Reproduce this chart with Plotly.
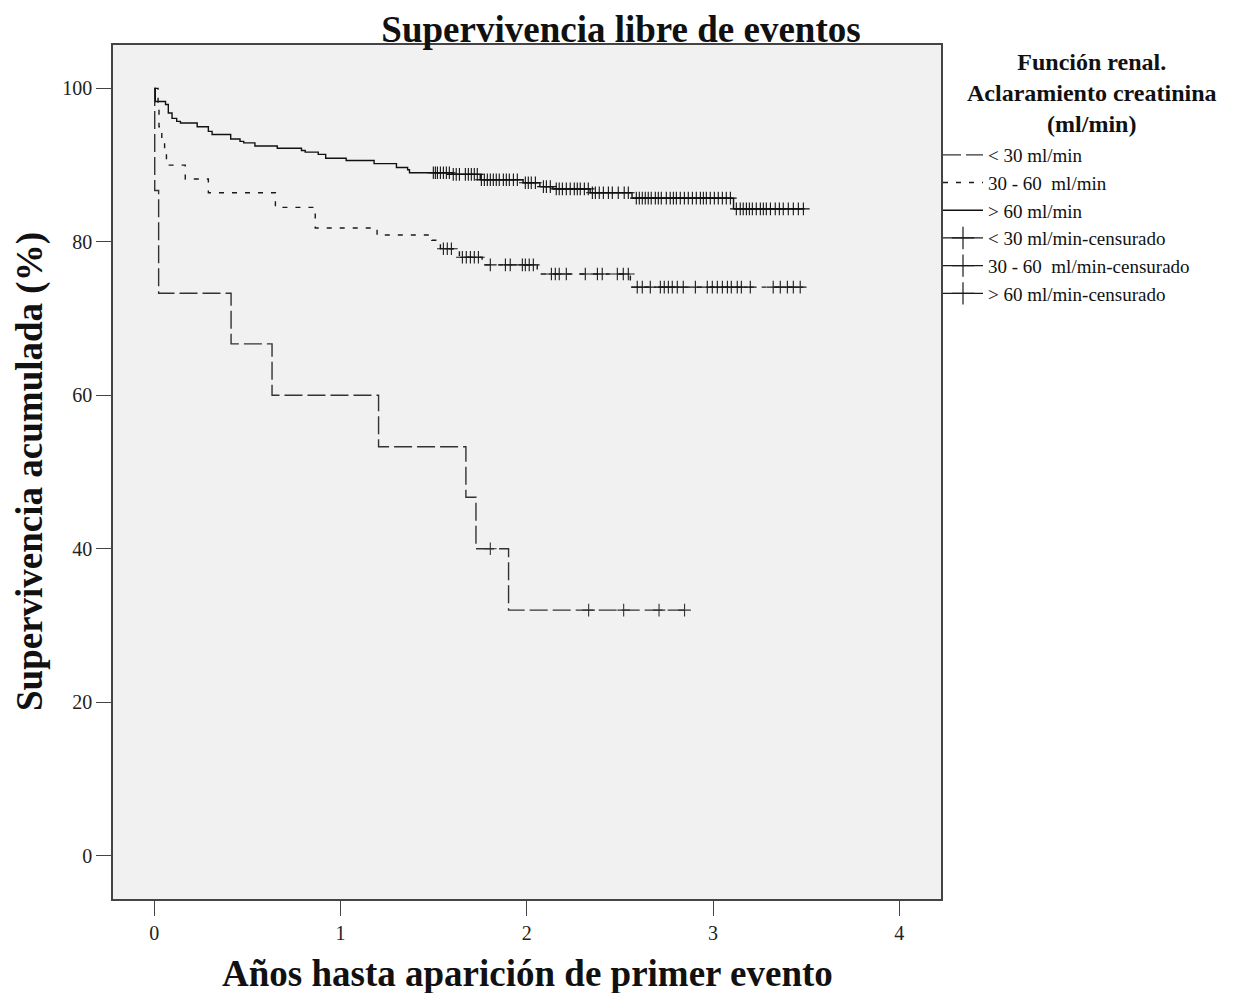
import plotly.graph_objects as go

# ---------------- data ----------------
group_names = ["< 30 ml/min", "30 - 60\u00a0 ml/min", "> 60 ml/min"]
censor_names = ["< 30 ml/min-censurado", "30 - 60\u00a0 ml/min-censurado", "> 60 ml/min-censurado"]

# < 30 ml/min : step times (years) and cumulative survival (%)
lt30_t = [0.0, 0.002, 0.023, 0.412, 0.632, 1.204, 1.673, 1.727, 1.902]
lt30_s = [100.0, 86.7, 73.3, 66.7, 60.0, 53.3, 46.7, 40.0, 32.0]
lt30_end = 2.847
lt30_cens = [1.804, 2.332, 2.520, 2.710, 2.847]

# 30 - 60 ml/min
mid_t = [0.0, 0.02, 0.025, 0.04, 0.055, 0.065, 0.166, 0.29, 0.65, 0.864, 1.196,
         1.49, 1.536, 1.638, 1.76, 2.056, 2.556]
mid_s = [100.0, 98.0, 95.0, 93.5, 92.0, 90.0, 88.2, 86.4, 84.5, 81.8, 80.9,
         80.2, 79.1, 78.0, 77.0, 75.8, 74.1]
mid_end = 3.485
mid_cens = [1.552, 1.573, 1.595, 1.654, 1.675, 1.697, 1.718, 1.740,
            1.804, 1.885, 1.911, 1.976, 1.992, 2.013, 2.035,
            2.132, 2.153, 2.174, 2.212, 2.314, 2.379, 2.405, 2.486, 2.518, 2.545,
            2.593, 2.620, 2.663, 2.717, 2.738, 2.760, 2.781, 2.808, 2.840, 2.905,
            2.969, 2.996, 3.023, 3.050, 3.077, 3.098, 3.130, 3.152, 3.200,
            3.323, 3.361, 3.399, 3.431, 3.468]

# > 60 ml/min
gt60_t = [0.0, 0.005, 0.06, 0.075, 0.095, 0.12, 0.14, 0.23, 0.29, 0.31, 0.41,
          0.46, 0.48, 0.54, 0.66, 0.79, 0.81, 0.88, 0.92, 1.03, 1.18, 1.30,
          1.36, 1.37, 1.60, 1.75, 1.98, 2.07, 2.14, 2.34, 2.565, 3.11]
gt60_s = [100.0, 98.3, 97.9, 96.8, 96.1, 95.7, 95.5, 95.0, 94.4, 94.0, 93.4,
          93.1, 92.9, 92.5, 92.2, 91.9, 91.7, 91.4, 90.9, 90.6, 90.2, 89.7,
          89.4, 89.0, 88.8, 88.1, 87.7, 87.2, 86.9, 86.4, 85.7, 84.3]
gt60_end = 3.485
gt60_cens = [1.498, 1.509, 1.520, 1.536, 1.552, 1.568, 1.584,
             1.605, 1.621, 1.638, 1.670, 1.686, 1.702, 1.718, 1.734,
             1.756, 1.772, 1.788, 1.804, 1.820, 1.836, 1.852, 1.874, 1.890, 1.906, 1.928, 1.949,
             1.992, 2.008, 2.024, 2.046, 2.089, 2.105, 2.126,
             2.158, 2.174, 2.191, 2.212, 2.233, 2.255, 2.271, 2.287, 2.309, 2.330,
             2.352, 2.368, 2.389, 2.411, 2.438, 2.459, 2.491, 2.523, 2.545,
             2.588, 2.604, 2.620, 2.636, 2.652, 2.668, 2.690, 2.706, 2.722, 2.749,
             2.770, 2.787, 2.803, 2.824, 2.846, 2.867, 2.889, 2.910, 2.932, 2.948,
             2.964, 2.985, 3.007, 3.028, 3.050, 3.071, 3.093,
             3.125, 3.146, 3.162, 3.179, 3.195, 3.211, 3.232, 3.254, 3.270, 3.286,
             3.308, 3.334, 3.356, 3.377, 3.404, 3.431, 3.458, 3.485]

x_ticks = [0, 1, 2, 3, 4]
y_ticks = [0, 20, 40, 60, 80, 100]

# ---------------- helpers ----------------
def level_at(times, surv, t):
    val = surv[0]
    for ti, si in zip(times, surv):
        if ti <= t:
            val = si
    return val

SERIF = "Liberation Serif, Times New Roman, serif"
LINE_COL = "#1a1a1a"
groups = [
    (lt30_t, lt30_s, lt30_end, lt30_cens, "18px,5px", "#333333"),
    (mid_t, mid_s, mid_end, mid_cens, "5px,8px", "#1a1a1a"),
    (gt60_t, gt60_s, gt60_end, gt60_cens, "solid", "#111111"),
]

fig = go.Figure()

for (t, s, end, cens, dash, col), name in zip(groups, group_names):
    fig.add_trace(go.Scatter(
        x=t + [end], y=s + [s[-1]], mode="lines", name=name,
        line=dict(color=col, width=1.4, dash=dash, shape="hv"),
        hoverinfo="skip"))

for (t, s, end, cens, dash, col) in groups:
    fig.add_trace(go.Scatter(
        x=cens, y=[level_at(t, s, c) for c in cens], mode="markers",
        showlegend=False,
        marker=dict(symbol="cross-thin", size=9, color=col,
                    line=dict(width=1.1, color=col)),
        hoverinfo="skip"))

for name in censor_names:
    fig.add_trace(go.Scatter(
        x=[None], y=[None], mode="lines+markers", name=name,
        line=dict(color=LINE_COL, width=1.2),
        marker=dict(symbol="cross-thin", size=16, color=LINE_COL,
                    line=dict(width=1.2, color=LINE_COL))))

axis_common = dict(
    showgrid=False, zeroline=False, showline=True, mirror=True,
    linecolor="#444444", linewidth=1.6,
    ticks="outside", ticklen=15, tickwidth=1.4, tickcolor="#444444",
    tickfont=dict(family=SERIF, size=20, color="#222222"),
)

fig.update_layout(
    width=1242, height=993,
    margin=dict(l=113, r=301, t=45, b=94, autoexpand=False),
    paper_bgcolor="white", plot_bgcolor="#f1f1f1",
    title=dict(text="Supervivencia libre de eventos", x=0.5, xref="container",
               y=1 - 29 / 993, yref="container", yanchor="middle", xanchor="center",
               font=dict(family=SERIF, size=37, color="#111111", weight="bold")),
    xaxis=dict(range=[-0.222, 4.224], tickvals=x_ticks, **axis_common),
    yaxis=dict(range=[-5.66, 105.66], tickvals=y_ticks, **axis_common),
    legend=dict(xref="container", yref="container", x=938 / 1242, y=1 - 136 / 993,
                xanchor="left", yanchor="top", bgcolor="rgba(0,0,0,0)",
                font=dict(family=SERIF, size=19, color="#111111"),
                itemwidth=40, tracegroupgap=0, traceorder="normal"),
    showlegend=True,
)

fig.add_annotation(text="Función renal.<br>Aclaramiento creatinina<br>(ml/min)",
                   xref="paper", yref="paper", x=(1092 - 113) / 828, y=(899 - 93) / 854,
                   xanchor="center", yanchor="middle", showarrow=False, align="center",
                   font=dict(family=SERIF, size=24, color="#111111", weight="bold"))

fig.add_annotation(text="Años hasta aparición de primer evento",
                   xref="paper", yref="paper", x=0.5, y=-(973 - 899) / 854,
                   xanchor="center", yanchor="middle", showarrow=False,
                   font=dict(family=SERIF, size=37, color="#111111", weight="bold"))

fig.add_annotation(text="Supervivencia acumulada (%)", textangle=-90,
                   xref="paper", yref="paper", x=-(113 - 30) / 828, y=0.5,
                   xanchor="center", yanchor="middle", showarrow=False,
                   font=dict(family=SERIF, size=37, color="#111111", weight="bold"))

fig.write_html("out.html")
